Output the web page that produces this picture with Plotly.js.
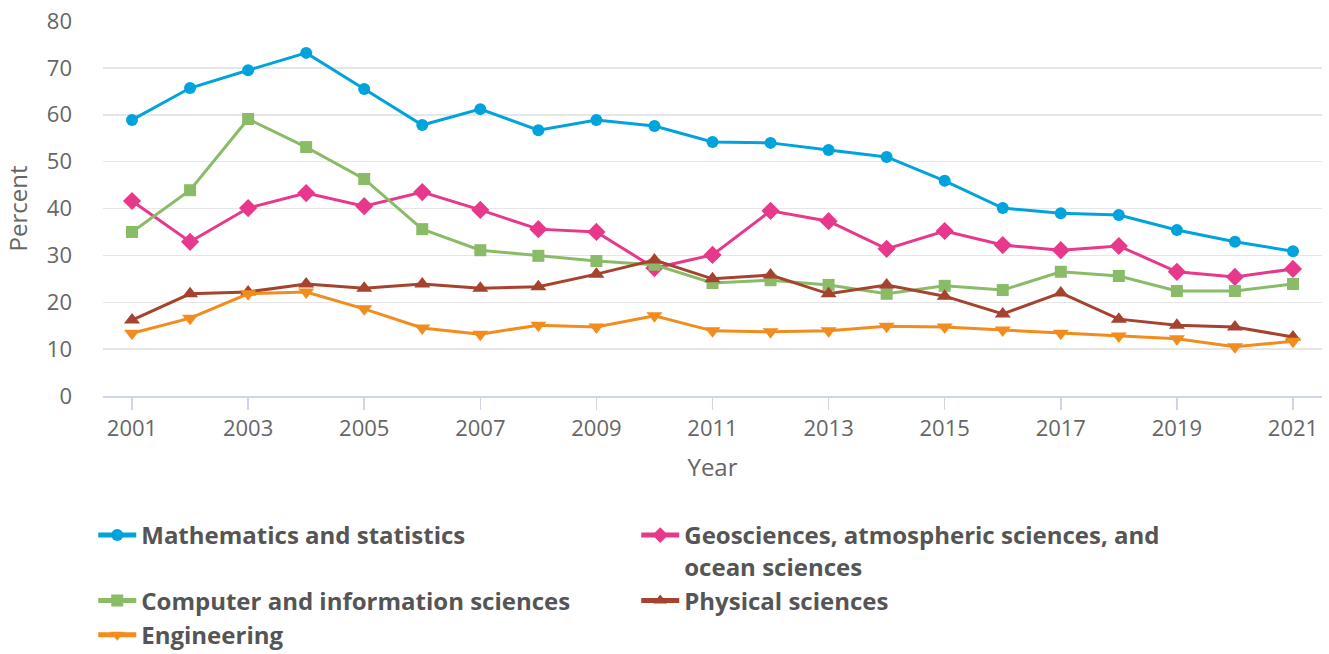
<!DOCTYPE html>
<html>
<head>
<meta charset="utf-8">
<script src="https://cdn.plot.ly/plotly-3.0.1.min.js"></script>
<style>html,body{margin:0;padding:0;background:#fff;}#chart{width:1329px;height:654px;}</style>
</head>
<body>
<div id="chart"></div>
<script>
const years = [2001,2002,2003,2004,2005,2006,2007,2008,2009,2010,2011,2012,2013,2014,2015,2016,2017,2018,2019,2020,2021];
const mathStats = [58.9,65.7,69.5,73.2,65.5,57.8,61.2,56.7,58.9,57.6,54.2,54.0,52.5,51.0,45.9,40.1,39.0,38.6,35.4,32.9,30.9];
const geosciences = [41.6,32.9,40.1,43.3,40.5,43.5,39.7,35.6,35.0,27.3,30.1,39.5,37.3,31.4,35.2,32.2,31.1,32.0,26.5,25.4,27.1];
const computerInfo = [35.0,43.9,59.1,53.1,46.3,35.6,31.1,29.9,28.8,28.0,24.1,24.7,23.7,21.8,23.5,22.6,26.5,25.6,22.4,22.4,23.9];
const physical = [16.2,21.8,22.2,23.9,23.0,23.9,23.0,23.3,26.0,29.0,25.0,25.8,21.8,23.7,21.3,17.5,22.0,16.4,15.1,14.7,12.6];
const engineering = [13.4,16.6,21.8,22.2,18.6,14.5,13.2,15.1,14.7,17.1,13.9,13.7,13.9,14.9,14.7,14.1,13.4,12.8,12.2,10.5,11.7];
const seriesNames = ["Mathematics and statistics","Geosciences, atmospheric sciences, and<br>ocean sciences","Computer and information sciences","Physical sciences","Engineering"];

const styles = [
  {color:'#00a3dc', symbol:'circle', size:12},
  {color:'#e8388c', symbol:'diamond', size:14},
  {color:'#8abb67', symbol:'square', size:12},
  {color:'#a5432f', symbol:'triangle-up', size:14},
  {color:'#f28c1c', symbol:'triangle-down', size:14}
];
const values = [mathStats, geosciences, computerInfo, physical, engineering];

const traces = values.map((v,i)=>({
  x: years, y: v, name: seriesNames[i], type:'scatter', mode:'lines+markers',
  line:{color:styles[i].color, width:3},
  marker:{color:styles[i].color, symbol:styles[i].symbol, size:styles[i].size}
}));

const font = "'Open Sans', sans-serif";
const layout = {
  width:1329, height:654,
  paper_bgcolor:'#fff', plot_bgcolor:'#fff',
  margin:{l:103, r:7, t:21, b:258, autoexpand:false},
  font:{family:font, color:'#666666', size:22},
  xaxis:{
    range:[2000.5,2021.5], tick0:2001, dtick:2, showgrid:false, zeroline:false,
    showline:true, linecolor:'#ccd6eb', linewidth:1.5,
    ticks:'outside', tickcolor:'#ccd6eb', ticklen:12, tickwidth:1.5,
    tickfont:{size:22, color:'#666666'},
    title:{text:'Year', font:{size:24, color:'#666666'}, standoff:18}
  },
  yaxis:{
    range:[0,80], dtick:10, showgrid:true, gridcolor:'#e6e6e6', gridwidth:1.5,
    zeroline:false, showline:false, ticks:'', ticklabelstandoff:30,
    tickfont:{size:22, color:'#666666'},
    title:{text:'Percent', font:{size:24, color:'#666666'}, standoff:12}
  },
  showlegend:true,
  legend:{
    orientation:'h', x:-0.008, xanchor:'left', y:-0.312, yanchor:'top',
    entrywidth:490, entrywidthmode:'pixels', valign:'top', itemwidth:38,
    font:{family:font, size:24, color:'#555555', weight:'bold'},
    itemsizing:'constant', tracegroupgap:0
  }
};
Plotly.newPlot('chart', traces, layout, {displayModeBar:false, staticPlot:true});
</script>
</body>
</html>
